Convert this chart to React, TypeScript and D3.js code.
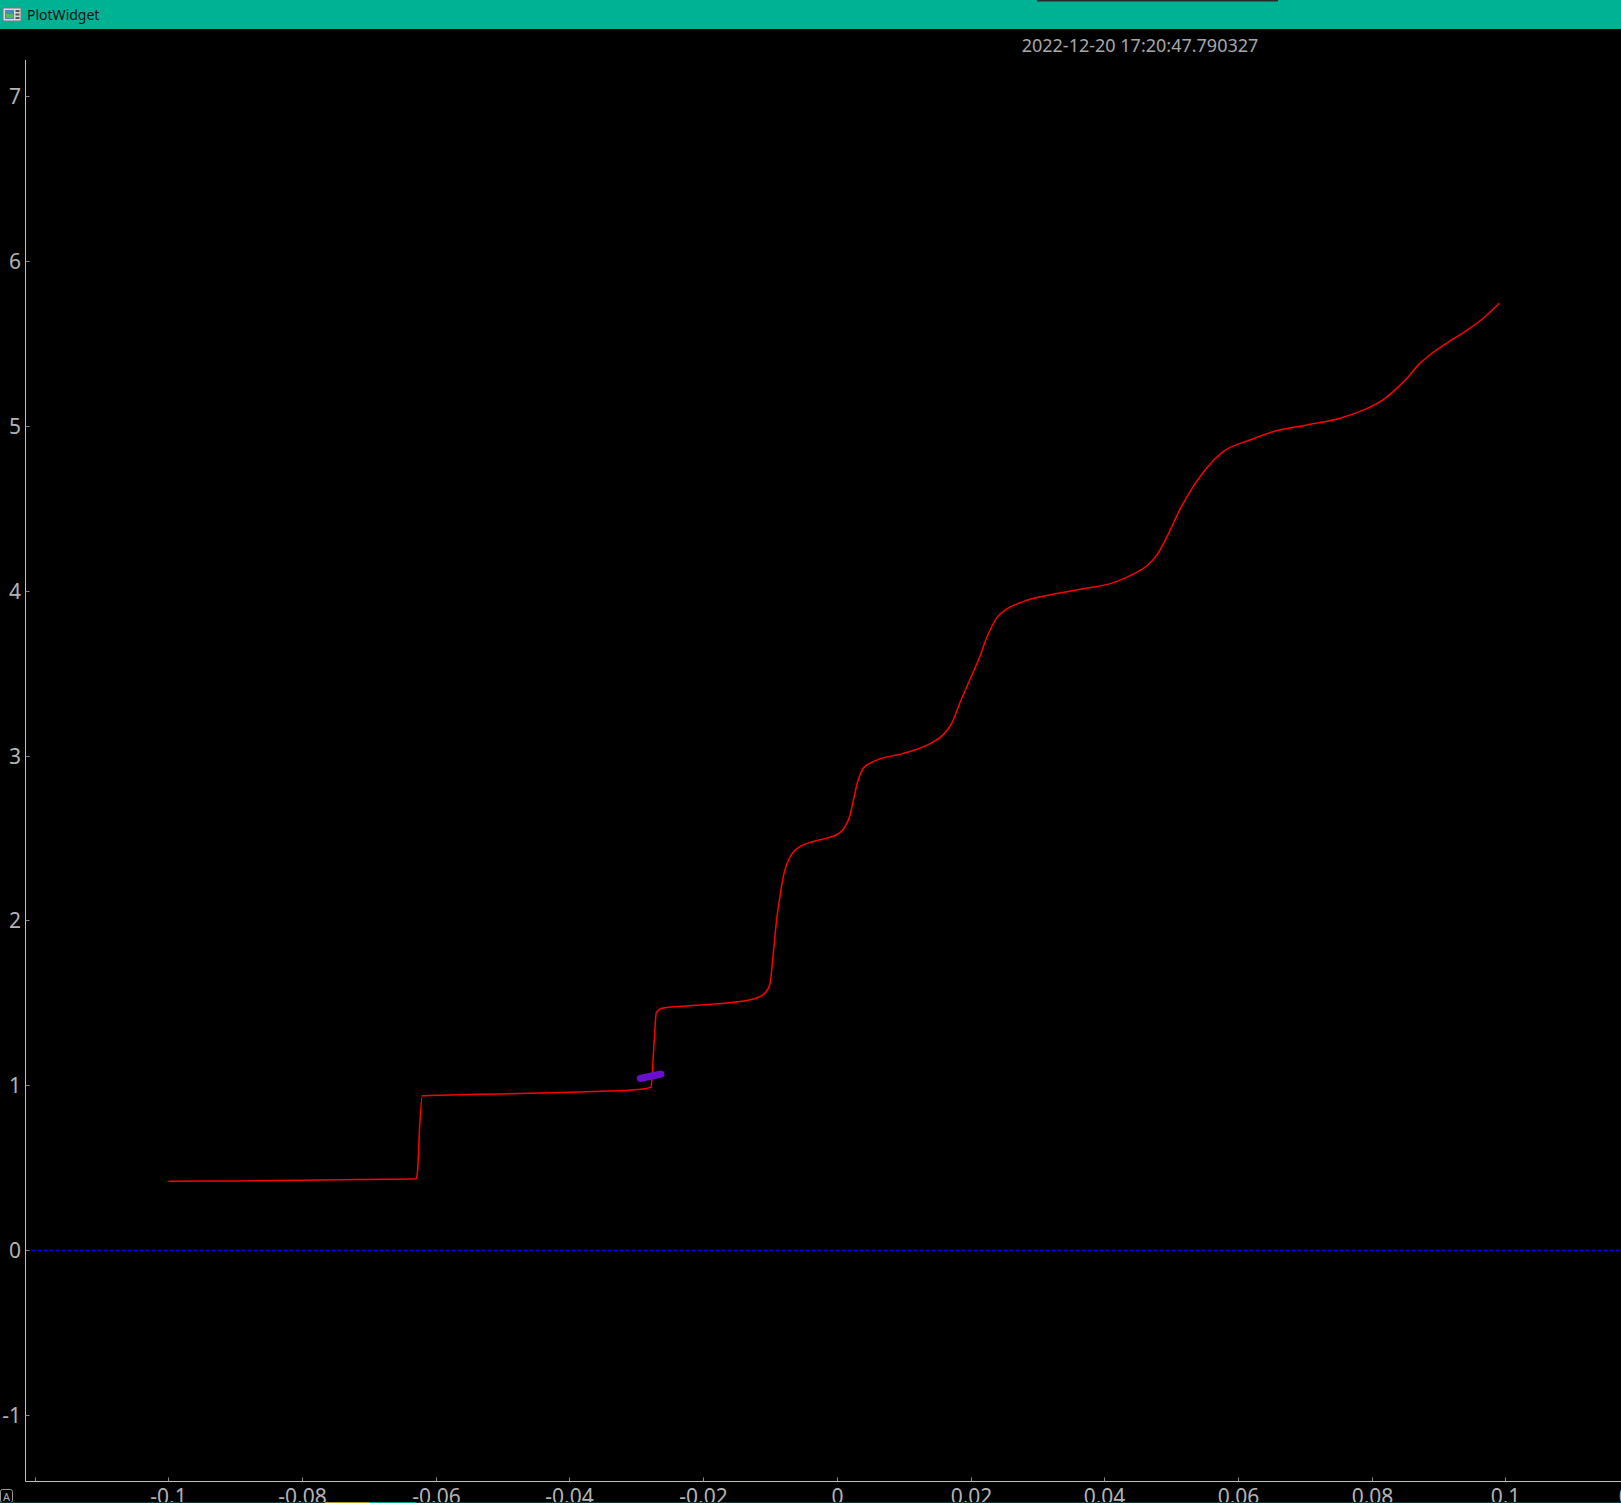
import React from "react";
import * as d3 from "d3";

const W = 1621;
const H = 1503;

// ---- data ----
const curveX = [
  -0.1, -0.09, -0.08, -0.07, -0.0629, -0.0627, -0.0624, -0.0620, -0.0581, -0.0509, -0.0444,
  -0.0387, -0.0339, -0.0306, -0.0287, -0.0279, -0.0278, -0.0273, -0.0270, -0.0260,
  -0.0220, -0.01647, -0.01348, -0.01198, -0.01074, -0.00999, -0.0095, -0.0090,
  -0.0085, -0.0080, -0.0075, -0.00675, -0.0055, -0.0035, -0.0015, 0.0002, 0.0012,
  0.0020, 0.0025, 0.0032, 0.0040, 0.0050, 0.0065, 0.0095, 0.0114, 0.0139, 0.0159,
  0.0172, 0.0184, 0.0199, 0.0214, 0.0224, 0.0232, 0.0239, 0.0254, 0.0279, 0.0314,
  0.0364, 0.0414, 0.0444, 0.0464, 0.0479, 0.0494, 0.0513, 0.0533, 0.0553, 0.0578,
  0.0618, 0.0653, 0.0703, 0.0753, 0.0788, 0.0817, 0.0838, 0.0853, 0.0870, 0.0887,
  0.0912, 0.0942, 0.0967, 0.0991,
];
const curveY = [
  0.419, 0.421, 0.425, 0.430, 0.4345, 0.49, 0.75, 0.9376, 0.9418, 0.948, 0.954,
  0.960, 0.966, 0.972, 0.980, 0.988, 0.99, 1.277, 1.442, 1.469,
  1.483, 1.4994, 1.515, 1.530, 1.560, 1.616, 1.802, 2.004,
  2.145, 2.267, 2.338, 2.402, 2.448, 2.479, 2.499, 2.525, 2.566,
  2.641, 2.732, 2.853, 2.924, 2.954, 2.980, 3.008, 3.030, 3.071, 3.125,
  3.196, 3.318, 3.459, 3.600, 3.712, 3.782, 3.833, 3.887, 3.933, 3.970,
  4.008, 4.048, 4.101, 4.150, 4.216, 4.327, 4.489, 4.630, 4.742, 4.842,
  4.913, 4.964, 5.004, 5.045, 5.095, 5.156, 5.227, 5.287, 5.368, 5.428,
  5.499, 5.576, 5.651, 5.742,
];
const markerX = [-0.0294, -0.0263];
const markerY = [1.042, 1.069];

const xTicks = [-0.12, -0.1, -0.08, -0.06, -0.04, -0.02, 0, 0.02, 0.04, 0.06, 0.08, 0.1, 0.12];
const xTickLabels = ["", "-0.1", "-0.08", "-0.06", "-0.04", "-0.02", "0", "0.02", "0.04", "0.06", "0.08", "0.1", "0.12"];
const yTicks = [-1, 0, 1, 2, 3, 4, 5, 6, 7];
const yTickLabels = ["-1", "0", "1", "2", "3", "4", "5", "6", "7"];
const baselineY = 0;

const titleText = "PlotWidget";
const timestampText = "2022-12-20 17:20:47.790327";

export default function App() {
  const x = d3.scaleLinear().domain([-0.1, 0.1]).range([168.3, 1505.3]);
  const y = d3.scaleLinear().domain([-1, 7]).range([1415.3, 95.7]);

  const axisLeft = 25.5;
  const axisTop = 60;
  const axisBottom = 1481.5;

  const line = d3
    .line<number>()
    .x((_, i) => x(curveX[i]))
    .y((_, i) => y(curveY[i]))
    .curve(d3.curveMonotoneX);
  const curvePath = line(curveY) || "";

  const markerLine = d3
    .line<number>()
    .x((_, i) => x(markerX[i]))
    .y((_, i) => y(markerY[i]));
  const markerPath = markerLine(markerY) || "";

  const tickFont = "'Noto Sans', 'Open Sans', sans-serif";
  const tickColor = "#b4b4b4";

  return (
    <>
      <style>{`html,body{margin:0;padding:0;background:#000;overflow:hidden}`}</style>
      <svg width={W} height={H} style={{ display: "block", background: "#000" }}>
        {/* title bar */}
        <rect x={0} y={0} width={W} height={29} fill="#00b294" />
        <rect x={1037} y={0} width={241} height={1.5} fill="#2b2b2b" />
        <g>
          <rect x={3} y={8} width={18} height={13} fill="#d9d9d9" stroke="#7a7a7a" strokeWidth={1} />
          <rect x={5} y={10} width={9} height={9} fill="#3f8fb8" />
          <rect x={6} y={14} width={7} height={4} fill="#5cb85c" />
          <rect x={15.5} y={10} width={4} height={2} fill="#555" />
          <rect x={15.5} y={13.5} width={4} height={2} fill="#555" />
          <rect x={15.5} y={17} width={4} height={2} fill="#555" />
        </g>
        <text x={27} y={20} fontFamily={tickFont} fontSize={14} fill="#111">
          {titleText}
        </text>

        {/* timestamp */}
        <text
          x={1140}
          y={52}
          textAnchor="middle"
          fontFamily={tickFont}
          fontSize={18}
          fill="#a8a8a8"
        >
          {timestampText}
        </text>

        {/* zero line */}
        <line
          x1={axisLeft + 6}
          x2={W}
          y1={Math.round(y(baselineY)) + 0.5}
          y2={Math.round(y(baselineY)) + 0.5}
          stroke="#0000ff"
          strokeWidth={1.5}
          strokeDasharray="4,2"
        />

        {/* curve */}
        <path d={curvePath} fill="none" stroke="#ff0000" strokeWidth={1.5} strokeLinejoin="round" />

        {/* marker */}
        <path d={markerPath} fill="none" stroke="#6a0fd2" strokeWidth={7} strokeLinecap="round" />

        {/* axes */}
        <line x1={axisLeft} x2={axisLeft} y1={axisTop} y2={axisBottom} stroke="#c0c0c0" strokeWidth={1} />
        <line x1={axisLeft} x2={W} y1={axisBottom} y2={axisBottom} stroke="#c0c0c0" strokeWidth={1} />

        {yTicks.map((t, i) => {
          const ty = Math.round(y(t)) + 0.5;
          return (
            <g key={"y" + t}>
              <line x1={axisLeft} x2={axisLeft + 4} y1={ty} y2={ty} stroke="#8c8c8c" strokeWidth={1} />
              <text
                x={21}
                y={ty + 7.5}
                textAnchor="end"
                fontFamily={tickFont}
                fontSize={21}
                fill={tickColor}
              >
                {yTickLabels[i]}
              </text>
            </g>
          );
        })}

        {xTicks.map((t, i) => {
          const tx = Math.round(x(t)) + 0.5;
          return (
            <g key={"x" + t}>
              <line x1={tx} x2={tx} y1={axisBottom} y2={axisBottom - 4} stroke="#8c8c8c" strokeWidth={1} />
              {xTickLabels[i] !== "" && (
                <text
                  x={tx}
                  y={1504}
                  textAnchor="middle"
                  fontFamily={tickFont}
                  fontSize={21}
                  fill={tickColor}
                >
                  {xTickLabels[i]}
                </text>
              )}
            </g>
          );
        })}

        {/* auto-range button */}
        <rect x={0.5} y={1489.5} width={12} height={13} rx={2} fill="none" stroke="#9a9a9a" strokeWidth={1} />
        <text x={6.5} y={1500.5} textAnchor="middle" fontFamily={tickFont} fontSize={11} fill="#b0b0b0">
          A
        </text>

        {/* bottom strip */}
        <rect x={0} y={1502} width={W} height={1} fill="#0a3a33" />
        <rect x={325} y={1502} width={45} height={1} fill="#b88a2a" />
        <rect x={370} y={1502} width={46} height={1} fill="#00a088" />
      </svg>
    </>
  );
}
